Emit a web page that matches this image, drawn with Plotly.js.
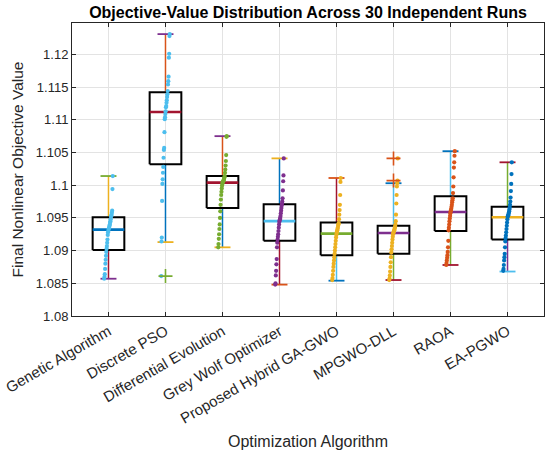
<!DOCTYPE html>
<html>
<head>
<meta charset="utf-8">
<script src="https://cdn.plot.ly/plotly-3.0.1.min.js"></script>
<style>html,body{margin:0;padding:0;background:#fff;}#chart{width:550px;height:453px;}</style>
</head>
<body>
<div id="chart"></div>
<script>
// ---- data ----
var categories = ["Genetic Algorithm","Discrete PSO","Differential Evolution","Grey Wolf Optimizer","Proposed Hybrid GA-GWO","MPGWO-DLL","RAOA","EA-PGWO"];

var upperWhisker = [1.1014, 1.1231, 1.1075, 1.1041, 1.1011, 1.1003, 1.1052, 1.1035];
var q3Values     = [1.0951, 1.1142, 1.1014, 1.0971, 1.0943, 1.0938, 1.0983, 1.0967];
var medianValues = [1.0932, 1.1112, 1.1004, 1.0945, 1.0926, 1.0927, 1.0959, 1.0951];
var q1Values     = [1.0901, 1.1032, 1.0965, 1.0915, 1.0893, 1.0895, 1.0930, 1.0917];
var lowerWhisker = [1.0857, 1.0913, 1.0905, 1.0848, 1.0854, 1.0855, 1.0878, 1.0868];

var outliers = [[], [1.0861], [], [], [], [1.1041, 1.1007], [], []];

var runsGA    = [1.1014,1.0994,1.0961,1.0958,1.0955,1.0953,1.0952,1.0948,1.0945,1.0943,1.0940,1.0938,1.0936,1.0934,1.0933,1.0930,1.0928,1.0924,1.0917,1.0912,1.0907,1.0903,1.0898,1.0892,1.0886,1.0880,1.0872,1.0864,1.0860,1.0857];
var runsPSO   = [1.1231,1.1228,1.1201,1.1195,1.1166,1.1159,1.1154,1.1144,1.1139,1.1135,1.1130,1.1126,1.1121,1.1119,1.1113,1.1109,1.1104,1.1101,1.1081,1.1057,1.1054,1.1042,1.1028,1.1019,1.1009,1.1002,1.0976,1.0920,1.0914,1.0861];
var runsDE    = [1.1075,1.1074,1.1046,1.1037,1.1030,1.1024,1.1019,1.1014,1.1012,1.1010,1.1008,1.1007,1.1006,1.1005,1.1004,1.1002,1.0999,1.0995,1.0990,1.0985,1.0978,1.0970,1.0960,1.0950,1.0940,1.0933,1.0925,1.0918,1.0910,1.0905];
var runsGWO   = [1.1041,1.1015,1.1006,1.0992,1.0980,1.0975,1.0972,1.0969,1.0965,1.0961,1.0957,1.0953,1.0950,1.0948,1.0946,1.0944,1.0940,1.0935,1.0930,1.0925,1.0921,1.0917,1.0912,1.0905,1.0887,1.0879,1.0869,1.0862,1.0850,1.0848];
var runsHybrid= [1.1011,1.1005,1.0985,1.0970,1.0962,1.0955,1.0948,1.0942,1.0940,1.0938,1.0935,1.0933,1.0931,1.0929,1.0927,1.0924,1.0920,1.0915,1.0910,1.0905,1.0900,1.0895,1.0890,1.0885,1.0880,1.0875,1.0869,1.0863,1.0858,1.0855];
var runsMPGWO = [1.1041,1.1007,1.1003,1.0998,1.0985,1.0972,1.0955,1.0945,1.0940,1.0937,1.0935,1.0933,1.0931,1.0930,1.0928,1.0927,1.0925,1.0921,1.0917,1.0912,1.0907,1.0902,1.0897,1.0890,1.0882,1.0875,1.0868,1.0862,1.0857,1.0855];
var runsRAOA  = [1.1052,1.1045,1.1035,1.1027,1.1012,1.0998,1.0988,1.0980,1.0977,1.0974,1.0970,1.0967,1.0964,1.0962,1.0960,1.0957,1.0953,1.0949,1.0945,1.0940,1.0935,1.0931,1.0915,1.0905,1.0898,1.0893,1.0889,1.0885,1.0881,1.0878];
var runsEAPGWO= [1.1035,1.1017,1.1002,1.0991,1.0981,1.0975,1.0970,1.0966,1.0963,1.0960,1.0958,1.0956,1.0954,1.0953,1.0952,1.0948,1.0943,1.0938,1.0933,1.0928,1.0923,1.0919,1.0914,1.0905,1.0895,1.0890,1.0885,1.0878,1.0872,1.0869];
var runs = [runsGA, runsPSO, runsDE, runsGWO, runsHybrid, runsMPGWO, runsRAOA, runsEAPGWO];

var yTickVals  = [1.08,1.085,1.09,1.095,1.1,1.105,1.11,1.115,1.12];
var yTickText  = ["1.08","1.085","1.09","1.095","1.1","1.105","1.11","1.115","1.12"];

// ---- styling ----
var C = {blue:"#0072BD", orange:"#D95319", yellow:"#EDB120", purple:"#7E2F8E", green:"#77AC30", cyan:"#4DBEEE", crimson:"#A2142F"};
// [upper whisker, upper cap, median, lower whisker, lower cap, points, outlier]
var palette = [
  [C.yellow, C.green, C.blue, C.crimson, C.purple, C.cyan, C.green],
  [C.orange, C.purple, C.crimson, C.blue, C.yellow, C.cyan, C.green],
  [C.orange, C.purple, C.crimson, C.blue, C.yellow, C.green, C.green],
  [C.blue, C.yellow, C.cyan, C.crimson, C.orange, C.purple, C.orange],
  [C.crimson, C.orange, C.green, C.cyan, C.blue, C.yellow, C.orange],
  [C.cyan, C.blue, C.purple, C.green, C.crimson, C.yellow, C.orange],
  [C.cyan, C.blue, C.purple, C.green, C.crimson, C.orange, C.orange],
  [C.green, C.crimson, C.yellow, C.purple, C.cyan, C.blue, C.orange]
];
var halfBox = 0.278, halfCap = 0.14, jitter = 0.075;
var FONT = "Liberation Sans, Arial, Helvetica, sans-serif";

var traces = [];
function line(xs, ys, color, width) {
  traces.push({type:"scatter", mode:"lines", x:xs, y:ys, line:{color:color, width:width}, hoverinfo:"skip", showlegend:false});
}
for (var i = 0; i < categories.length; i++) {
  var x = i + 1, p = palette[i];
  line([x, x], [q3Values[i], upperWhisker[i]], p[0], 1.5);
  line([x, x], [lowerWhisker[i], q1Values[i]], p[3], 1.5);
  line([x - halfCap, x + halfCap], [upperWhisker[i], upperWhisker[i]], p[1], 1.8);
  line([x - halfCap, x + halfCap], [lowerWhisker[i], lowerWhisker[i]], p[4], 1.8);
  line([x - halfBox, x + halfBox, x + halfBox, x - halfBox, x - halfBox],
       [q1Values[i], q1Values[i], q3Values[i], q3Values[i], q1Values[i]], "#000000", 2);
  line([x - halfBox, x + halfBox], [medianValues[i], medianValues[i]], p[2], 2.6);
}
for (var i = 0; i < categories.length; i++) {
  var vals = runs[i].slice().sort(function(a,b){return a-b;});
  var n = vals.length, xs = [];
  for (var k = 0; k < n; k++) xs.push(i + 1 - jitter + 2 * jitter * k / (n - 1));
  traces.push({type:"scatter", mode:"markers", x:xs, y:vals,
    marker:{color:palette[i][5], size:4.2, line:{width:0}}, hoverinfo:"y", showlegend:false});
}
for (var i = 0; i < categories.length; i++) {
  if (!outliers[i].length) continue;
  traces.push({type:"scatter", mode:"markers", x:outliers[i].map(function(){return i + 1;}), y:outliers[i],
    marker:{symbol:"cross-thin-open", size:10, color:palette[i][6], line:{color:palette[i][6], width:1.6}},
    hoverinfo:"y", showlegend:false});
}

var axisCommon = {showline:true, linecolor:"#262626", linewidth:1, mirror:"ticks", ticks:"inside", ticklen:4,
  tickcolor:"#262626", showgrid:true, gridcolor:"#e3e3e3", gridwidth:1, zeroline:false,
  tickfont:{family:FONT, size:13, color:"#262626"}};

var layout = {
  width:550, height:453,
  margin:{l:72, r:6, t:23, b:137},
  paper_bgcolor:"#ffffff", plot_bgcolor:"#ffffff",
  title:{text:"<b>Objective-Value Distribution Across 30 Independent Runs</b>", x:0.56, xanchor:"center", y:0.972, yanchor:"middle",
    font:{family:FONT, size:16, color:"#000000"}},
  xaxis:Object.assign({}, axisCommon, {range:[0.36, 8.64], tickmode:"array", tickvals:categories.map(function(c,i){return i+1;}),
    ticktext:categories, tickangle:-30, tickfont:{family:FONT, size:15, color:"#262626"},
    title:{text:"Optimization Algorithm", standoff:10, font:{family:FONT, size:16, color:"#262626"}}}),
  yaxis:Object.assign({}, axisCommon, {range:[1.08, 1.1248], tickmode:"array", tickvals:yTickVals, ticktext:yTickText,
    title:{text:"Final Nonlinear Objective Value", standoff:8, font:{family:FONT, size:15.5, color:"#262626"}}}),
  showlegend:false
};

Plotly.newPlot("chart", traces, layout, {staticPlot:true, displayModeBar:false});
</script>
</body>
</html>
